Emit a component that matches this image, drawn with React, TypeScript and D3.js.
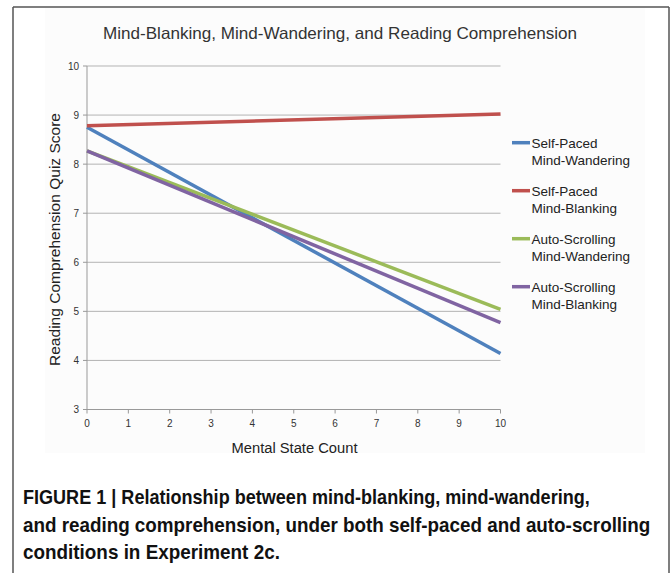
import React, { useLayoutEffect, useRef, useState } from "react";
import * as d3 from "d3";

const xTicks = [0, 1, 2, 3, 4, 5, 6, 7, 8, 9, 10];
const yTicks = [3, 4, 5, 6, 7, 8, 9, 10];
const seriesNames = [
  ["Self-Paced", "Mind-Wandering"],
  ["Self-Paced", "Mind-Blanking"],
  ["Auto-Scrolling", "Mind-Wandering"],
  ["Auto-Scrolling", "Mind-Blanking"],
];
const seriesColors = ["#4F81BD", "#C0504D", "#9BBB59", "#8064A2"];
const xValues = [0, 10];
const selfPacedMW = [8.75, 4.14];
const selfPacedMB = [8.78, 9.02];
const autoScrollMW = [8.27, 5.04];
const autoScrollMB = [8.27, 4.77];
const seriesValues = [selfPacedMW, selfPacedMB, autoScrollMW, autoScrollMB];
const titleText = "Mind-Blanking, Mind-Wandering, and Reading Comprehension";
const yLabel = "Reading Comprehension Quiz  Score";
const xLabel = "Mental State Count";
const captionLines = [
  "FIGURE 1 | Relationship between mind-blanking, mind-wandering,",
  "and reading comprehension, under both self-paced and auto-scrolling",
  "conditions in Experiment 2c.",
];

function FitText({ x, y, target, children, ...rest }: any) {
  const ref = useRef<SVGTextElement>(null);
  const [sx, setSx] = useState(1);
  useLayoutEffect(() => {
    if (ref.current) {
      const w = ref.current.getComputedTextLength();
      if (w > 0) setSx(target / w);
    }
  }, [target]);
  return (
    <g transform={`translate(${x},${y}) scale(${sx},1)`}>
      <text ref={ref} x={0} y={0} {...rest}>
        {children}
      </text>
    </g>
  );
}

export default function App() {
  const x = d3.scaleLinear().domain([0, 10]).range([87, 500.5]);
  const y = d3.scaleLinear().domain([3, 10]).range([409.5, 66]);
  const line = d3
    .line<[number, number]>()
    .x((d) => x(d[0]))
    .y((d) => y(d[1]));
  const font = "Arial, 'Liberation Sans', Helvetica, sans-serif";
  const capFont = "'Liberation Sans Narrow', 'Arial Narrow', 'Liberation Sans', Arial, sans-serif";
  const capLens = [567, 628, 257];
  return (
    <div style={{ position: "fixed", left: 0, top: 0 }}>
      <svg width={671} height={573} style={{ display: "block", background: "#fff" }}>
        <rect x={45} y={8} width={600} height={445} fill="#fcfcfc" />
        <line x1={13} y1={7} x2={13} y2={573} stroke="#555" strokeWidth={1.5} />
        <line x1={669} y1={7} x2={669} y2={573} stroke="#555" strokeWidth={1.5} />
        <line x1={13} y1={7} x2={669} y2={7} stroke="#555" strokeWidth={1.5} />
        <text
          x={340}
          y={39}
          textAnchor="middle"
          fontFamily={font}
          fontSize={16.5}
          fill="#333"
          textLength={474}
          lengthAdjust="spacingAndGlyphs"
        >
          {titleText}
        </text>
        {yTicks
          .filter((t) => t > 3)
          .map((t) => (
            <line key={"g" + t} x1={x(0)} x2={x(10)} y1={y(t)} y2={y(t)} stroke="#b3b3b3" strokeWidth={1} />
          ))}
        <line x1={x(0)} x2={x(0)} y1={y(10)} y2={y(3)} stroke="#999" strokeWidth={1} />
        <line x1={x(0)} x2={x(10)} y1={y(3)} y2={y(3)} stroke="#999" strokeWidth={1} />
        {yTicks.map((t) => (
          <g key={"y" + t}>
            <line x1={x(0) - 4} x2={x(0)} y1={y(t)} y2={y(t)} stroke="#999" />
            <text x={79} y={y(t) + 3.5} textAnchor="end" fontFamily={font} fontSize={10} fill="#333">
              {t}
            </text>
          </g>
        ))}
        {xTicks.map((t) => (
          <g key={"x" + t}>
            <line x1={x(t)} x2={x(t)} y1={y(3)} y2={y(3) + 4} stroke="#999" />
            <text x={x(t)} y={427} textAnchor="middle" fontFamily={font} fontSize={10} fill="#333">
              {t}
            </text>
          </g>
        ))}
        <text
          transform="translate(60,239.5) rotate(-90)"
          textAnchor="middle"
          fontFamily={font}
          fontSize={15.5}
          fill="#222"
          textLength={253}
          lengthAdjust="spacingAndGlyphs"
        >
          {yLabel}
        </text>
        <text
          x={294.5}
          y={453}
          textAnchor="middle"
          fontFamily={font}
          fontSize={15.5}
          fill="#222"
          textLength={126}
          lengthAdjust="spacingAndGlyphs"
        >
          {xLabel}
        </text>
        {seriesValues.map((vals, i) => (
          <path
            key={"s" + i}
            d={line(xValues.map((xv, j) => [xv, vals[j]] as [number, number])) || ""}
            fill="none"
            stroke={seriesColors[i]}
            strokeWidth={3.5}
          />
        ))}
        {seriesNames.map((nm, i) => {
          const ly = 142.7 + i * 48;
          return (
            <g key={"l" + i}>
              <line x1={512} x2={530} y1={ly} y2={ly} stroke={seriesColors[i]} strokeWidth={3.5} />
              <text x={531.5} y={ly + 5} fontFamily={font} fontSize={13.5} fill="#222">
                {nm[0]}
              </text>
              <text x={531.5} y={ly + 22} fontFamily={font} fontSize={13.5} fill="#222">
                {nm[1]}
              </text>
            </g>
          );
        })}
        {captionLines.map((c, i) => (
          <FitText
            key={"c" + i}
            x={23}
            y={504 + i * 27.5}
            target={capLens[i]}
            fontFamily={capFont}
            fontWeight="bold"
            fontSize={20}
            fill="#111"
          >
            {c}
          </FitText>
        ))}
      </svg>
    </div>
  );
}
